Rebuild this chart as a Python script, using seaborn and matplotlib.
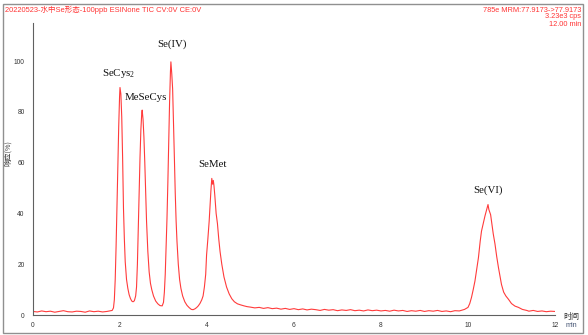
import matplotlib
matplotlib.use("Agg")
import matplotlib.pyplot as plt
from matplotlib.patches import Rectangle
from matplotlib.ticker import MultipleLocator
import pandas as pd
import seaborn as sns

# --- chromatogram trace (time in min, relative response in %) ---
lead_time = [0.0, 0.1, 0.2, 0.3, 0.4, 0.5, 0.6, 0.7, 0.8, 0.9, 1.0, 1.1, 1.2,
             1.3, 1.4, 1.5, 1.6, 1.7, 1.8]
lead_signal = [1.4, 1.2, 1.6, 1.3, 1.5, 1.1, 1.4, 1.7, 1.3, 1.2, 1.5, 1.4, 1.1,
               1.6, 1.3, 1.5, 1.2, 1.4, 1.7]

early_time = [1.82, 1.85, 1.87, 1.89, 1.91, 1.93, 1.95, 1.97, 1.99, 2.00, 2.02,
              2.04, 2.06, 2.08, 2.10, 2.12, 2.15, 2.18, 2.21, 2.24, 2.27, 2.30,
              2.33, 2.36, 2.38, 2.40, 2.42, 2.44, 2.46, 2.48, 2.50, 2.51, 2.53,
              2.55, 2.57, 2.59, 2.61, 2.64, 2.67, 2.70, 2.73, 2.77, 2.82, 2.87,
              2.92, 2.97, 3.00, 3.02, 3.04, 3.06, 3.08, 3.10, 3.12, 3.14, 3.16,
              3.17, 3.19, 3.21, 3.23, 3.25, 3.27, 3.29, 3.31, 3.34, 3.37, 3.40,
              3.44, 3.49, 3.54, 3.59, 3.64, 3.68, 3.72, 3.76, 3.80, 3.84, 3.88,
              3.91, 3.94, 3.97, 3.99, 4.02, 4.05, 4.07, 4.09, 4.11, 4.13, 4.145,
              4.16, 4.18, 4.21, 4.24, 4.27, 4.30, 4.34, 4.39, 4.45, 4.51, 4.57,
              4.63, 4.70, 4.77, 4.85, 4.92]
early_signal = [1.8, 2.8, 6.0, 14.0, 27.0, 42.0, 58.0, 74.0, 86.0, 89.6, 87.0,
                78.0, 62.0, 42.0, 30.0, 21.0, 14.0, 10.5, 8.0, 6.5, 5.5, 5.2,
                5.6, 7.5, 11.0, 20.0, 34.0, 48.0, 62.0, 73.0, 79.5, 80.7, 77.0,
                70.0, 60.0, 48.0, 37.0, 25.0, 17.0, 12.5, 10.0, 7.5, 5.5, 4.4,
                3.7, 3.6, 5.0, 9.0, 16.0, 27.0, 38.0, 52.0, 68.0, 84.0, 96.0,
                99.7, 95.0, 89.0, 76.0, 62.0, 48.0, 37.0, 29.0, 20.0, 14.0, 10.5,
                7.5, 5.2, 3.8, 2.9, 2.2, 2.1, 2.4, 2.9, 3.6, 4.6, 6.0,
                7.5, 11.0, 16.0, 23.6, 30.0, 37.0, 43.0, 49.0, 53.8, 51.5, 53.0,
                51.0, 47.0, 40.0, 36.0, 30.0, 25.0, 20.0, 15.0, 11.0, 8.3, 6.4,
                5.2, 4.4, 4.0, 3.6, 3.3]

mid_time = [5.0, 5.1, 5.2, 5.3, 5.4, 5.5, 5.6, 5.7, 5.8, 5.9, 6.0, 6.1, 6.2,
            6.3, 6.4, 6.5, 6.6, 6.7, 6.8, 6.9, 7.0, 7.1, 7.2, 7.3, 7.4, 7.5,
            7.6, 7.7, 7.8, 7.9, 8.0, 8.1, 8.2, 8.3, 8.4, 8.5, 8.6, 8.7, 8.8,
            8.9, 9.0, 9.1, 9.2, 9.3, 9.4, 9.5, 9.6, 9.7, 9.8]
mid_signal = [3.1, 2.8, 3.0, 2.6, 2.9, 2.5, 2.7, 2.3, 2.6, 2.2, 2.5, 2.1, 2.4,
              2.0, 2.3, 2.1, 1.8, 2.2, 1.9, 2.1, 1.7, 2.0, 1.8, 2.1, 1.7, 1.9,
              1.6, 2.0, 1.7, 1.9, 1.6, 1.8, 1.5, 1.9, 1.6, 1.8, 1.4, 1.7, 1.5,
              1.8, 1.4, 1.7, 1.5, 1.8, 1.4, 1.6, 1.3, 1.7, 1.6]

sevi_time = [9.86, 9.92, 9.96, 10.00, 10.04, 10.08, 10.12, 10.16, 10.20, 10.24,
             10.28, 10.31, 10.35, 10.39, 10.43, 10.46, 10.48, 10.50, 10.52,
             10.54, 10.58, 10.62, 10.66, 10.70, 10.74, 10.77, 10.82, 10.87,
             10.93, 11.00, 11.08, 11.16, 11.25, 11.35]
sevi_signal = [1.9, 2.2, 2.6, 3.0, 4.5, 6.9, 10.0, 13.4, 18.0, 22.6,
               29.0, 33.0, 36.0, 39.0, 41.5, 43.5, 41.5, 40.5, 39.5,
               37.0, 32.0, 28.0, 23.0, 18.7, 15.0, 12.0, 9.0, 7.5,
               6.2, 4.5, 3.5, 3.0, 2.2, 1.8]

tail_time = [11.4, 11.5, 11.6, 11.7, 11.8, 11.9, 12.0]
tail_signal = [1.5, 1.8, 1.4, 1.6, 1.3, 1.5, 1.4]

# --- peak annotations ---
peak_names = ["SeCys$_\\mathregular{2}$", "MeSeCys", "Se(IV)", "SeMet", "Se(VI)"]
peak_times = [2.00, 2.51, 3.17, 4.11, 10.46]
peak_heights = [89.6, 80.7, 99.7, 53.8, 43.5]
label_offsets_px = [(-1, 14), (4, 13), (1.5, 18), (1, 14), (0, 14)]

header_left = "20220523-水中Se形态-100ppb ESINone TIC CV:0V CE:0V"
header_right = ["785e MRM:77.9173->77.9173", "3.23e3 cps", "12.00 min"]

df = pd.DataFrame({
    "time": lead_time + early_time + mid_time + sevi_time + tail_time,
    "signal": lead_signal + early_signal + mid_signal + sevi_signal + tail_signal,
})

sns.set_style("white")
plt.rcParams["font.family"] = ["Liberation Sans", "Noto Sans CJK SC", "DejaVu Sans"]

W, H = 588, 335
fig = plt.figure(figsize=(W / 100, H / 100), dpi=100)
fig.patch.set_facecolor("white")
ax = fig.add_axes([33 / W, 20 / H, 522 / W, 292 / H])
ax.set_facecolor("white")

sns.lineplot(data=df, x="time", y="signal", ax=ax, color="#ff3b3b",
             linewidth=0.8, estimator=None)

ax.set_xlim(0, 12)
ax.set_ylim(0, 115)
for side in ("top", "right"):
    ax.spines[side].set_visible(False)
for side in ("left", "bottom"):
    ax.spines[side].set_color("#606060")
    ax.spines[side].set_linewidth(0.8)

ax.xaxis.set_major_locator(MultipleLocator(2))
ax.xaxis.set_minor_locator(MultipleLocator(0.5))
ax.yaxis.set_major_locator(MultipleLocator(20))
ax.yaxis.set_minor_locator(MultipleLocator(5))
ax.tick_params(which="both", direction="out", length=2.5, width=0.6,
               color="#606060", labelsize=4.8, labelcolor="#333333")
ax.tick_params(axis="x", which="both", pad=2.5)
ax.tick_params(axis="y", which="both", pad=3.5)

ax.set_xlabel("")
ax.set_ylabel("响应(%)", fontsize=5.2, color="#333333",
              family=["Noto Sans CJK SC", "DejaVu Sans"])
ax.yaxis.set_label_coords(-0.041, 0.555)

ax.text(1.016, -0.004, "时间", transform=ax.transAxes, fontsize=5.8,
        color="#333333", ha="left", va="center",
        family=["Noto Sans CJK SC", "DejaVu Sans"])
ax.text(1.02, -0.036, "min", transform=ax.transAxes, fontsize=5.2,
        color="#405070", ha="left", va="center")

for name, t, h, (dx, dy) in zip(peak_names, peak_times, peak_heights, label_offsets_px):
    ax.annotate(name, xy=(t, h), xytext=(dx, dy), textcoords="offset pixels",
                ha="center", va="center", fontsize=7.8,
                family="Liberation Serif", color="#111111")

fig.text(5 / W, 1 - 10 / H, header_left, fontsize=5.4, color="#ff3333",
         ha="left", va="center",
         family=["Liberation Sans", "Noto Sans CJK SC", "DejaVu Sans"])
for i, line in enumerate(header_right):
    fig.text(581 / W, 1 - (10 + 7 * i) / H, line, fontsize=5.3, color="#ff3333",
             ha="right", va="center")

fig.patches.append(Rectangle((3 / W, 2 / H), 580 / W, 329 / H,
                             transform=fig.transFigure, fill=False,
                             edgecolor="#909090", linewidth=1.0))

fig.savefig("out.png", dpi=100)
